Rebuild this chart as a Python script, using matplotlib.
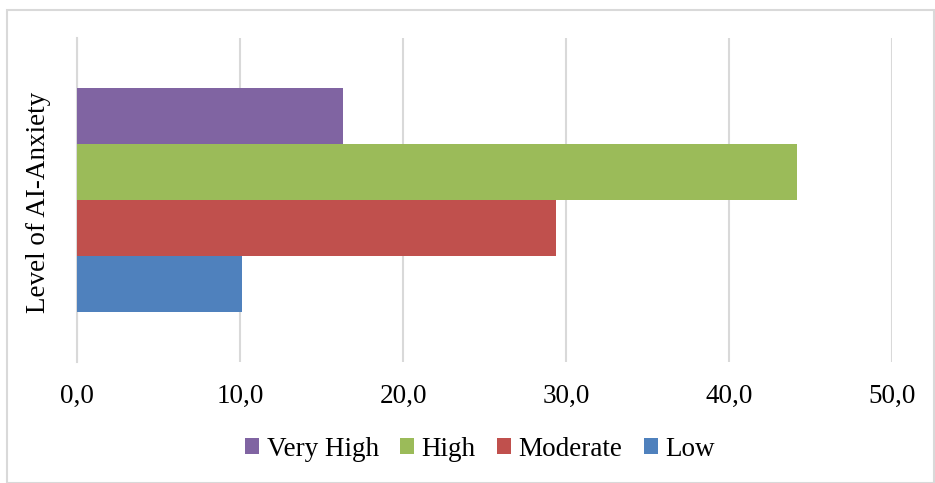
import matplotlib
matplotlib.use("Agg")
import matplotlib.pyplot as plt
from matplotlib.patches import Rectangle

plt.rcParams['font.family'] = ['Liberation Serif', 'DejaVu Serif']

category = "Level of AI-Anxiety"
series = ["Low", "Moderate", "High", "Very High"]
values = [10.1, 29.4, 44.2, 16.3]
colors = ["#4F81BD", "#C0504D", "#9BBB59", "#8064A2"]
xticks = [0, 10, 20, 30, 40, 50]
xticklabels = ["0,0", "10,0", "20,0", "30,0", "40,0", "50,0"]

W, H = 935, 483
FS = 19.5
fig = plt.figure(figsize=(W/100, H/100), dpi=100)
ax = fig.add_axes([77/W, (H-362)/H, (892-77)/W, (362-38)/H])

n = len(series)
bw = 0.1728
offsets = [(i - (n-1)/2) * bw for i in range(n)]
handles = []
for i, (s, v, c) in enumerate(zip(series, values, colors)):
    h = ax.barh(offsets[i], v, height=bw, color=c, label=s, zorder=3)
    handles.append(h)

ax.set_xlim(0, 50)
ax.set_ylim(-0.5, 0.5)
ax.set_xticks(xticks)
ax.set_xticklabels(xticklabels, fontsize=FS)
ax.set_yticks([])
ax.tick_params(axis='x', length=0, pad=16)
ax.grid(axis='x', color='#D9D9D9', linewidth=1.5, zorder=0)
for sp in ['top', 'right', 'bottom']:
    ax.spines[sp].set_visible(False)
ax.spines['left'].set_color('#D9D9D9')
ax.spines['left'].set_linewidth(1.5)

fig.text(39/W, 1 - 202/H, category, rotation=90, ha='center', va='center', fontsize=FS)

leg = fig.legend(handles[::-1], series[::-1], loc='center', bbox_to_anchor=(480/W, 1 - 449/H),
                 ncol=4, frameon=False, fontsize=FS, handlelength=0.52, handleheight=0.52,
                 handletextpad=0.26, columnspacing=0.8)

fig.patches.append(Rectangle((7/W, 0), (W-7)/W - 1/W, (H-10)/H, transform=fig.transFigure,
                             fill=False, edgecolor='#D9D9D9', linewidth=1.5))

fig.savefig("out.png", dpi=100)
